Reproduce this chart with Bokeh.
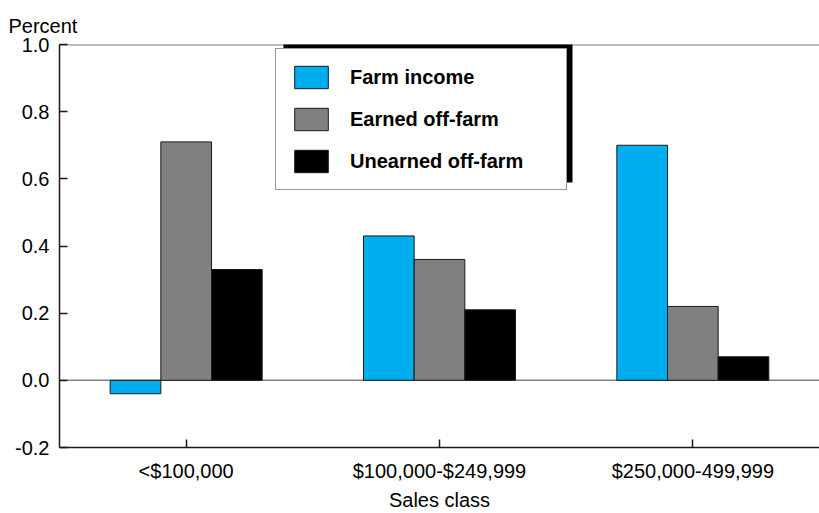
import numpy as np
from bokeh.plotting import figure
from bokeh.models import (Range1d, FixedTicker, Span, BoxAnnotation, Legend,
                          LegendItem, NumeralTickFormatter)
from bokeh.embed import file_html
from bokeh.resources import INLINE

categories = ["<$100,000", "$100,000-$249,999", "$250,000-499,999"]
farm_income = [-0.04, 0.43, 0.70]
earned_off_farm = [0.71, 0.36, 0.22]
unearned_off_farm = [0.33, 0.21, 0.07]
series_names = ["Farm income", "Earned off-farm", "Unearned off-farm"]
series_colors = ["#00AEEF", "#808080", "#000000"]
y_ticks = [-0.2, 0.0, 0.2, 0.4, 0.6, 0.8, 1.0]

FONT = "Liberation Sans"

p = figure(width=819, height=513, output_backend="svg", toolbar_location=None,
           x_range=Range1d(0, 3), y_range=Range1d(-0.2, 1.0),
           min_border_left=59, min_border_right=0, min_border_top=44,
           min_border_bottom=66, title="Percent")
p.outline_line_color = None
p.xgrid.visible = False
p.ygrid.visible = False

p.title.text_font = FONT
p.title.text_font_size = "20px"
p.title.text_font_style = "normal"
p.title.text_color = "black"
p.title.align = "left"
p.title.offset = -51
p.title.standoff = 15

centers = np.arange(len(categories)) + 0.5
offsets = [-0.2, 0.0, 0.2]
values = [farm_income, earned_off_farm, unearned_off_farm]

for s in [Span(location=0.0, dimension="width", line_color="#808080", line_width=1.5, level="underlay"),
          Span(location=1.0, dimension="width", line_color="#808080", line_width=2, level="underlay")]:
    p.add_layout(s)

renderers = []
for vals, off, col in zip(values, offsets, series_colors):
    r = p.vbar(x=centers + off, top=vals, bottom=0, width=0.2,
               fill_color=col, line_color="#1a1a1a", line_width=1)
    renderers.append(r)

# axes
for ax in (p.xaxis[0], p.yaxis[0]):
    ax.axis_line_color = "#1a1a1a"
    ax.axis_line_width = 1.5
    ax.major_tick_line_color = "#1a1a1a"
    ax.major_tick_line_width = 1.5
    ax.minor_tick_line_color = None
    ax.major_tick_out = 0
    ax.major_tick_in = 8
    ax.major_label_text_font = FONT
    ax.major_label_text_font_size = "20px"
    ax.major_label_text_color = "black"

p.yaxis.ticker = FixedTicker(ticks=y_ticks)
p.yaxis.formatter = NumeralTickFormatter(format="0.0")
p.yaxis.major_label_standoff = 10

p.xaxis.ticker = FixedTicker(ticks=list(centers))
p.xaxis.major_label_overrides = {float(c): lab for c, lab in zip(centers, categories)}
p.xaxis.major_label_standoff = 12
p.xaxis.axis_label = "Sales class"
p.xaxis.axis_label_text_font = FONT
p.xaxis.axis_label_text_font_size = "20px"
p.xaxis.axis_label_text_font_style = "normal"
p.xaxis.axis_label_text_color = "black"
p.xaxis.axis_label_standoff = 4

# legend shadow
shadow = BoxAnnotation(left=0.884, right=2.025, bottom=0.589, top=1.012,
                       fill_color="black", fill_alpha=1.0, line_color=None)
p.add_layout(shadow)

legend = Legend(items=[LegendItem(label=n, renderers=[r]) for n, r in zip(series_names, renderers)],
                location=(216, 257))
legend.label_text_font = FONT
legend.label_text_font_size = "20px"
legend.label_text_font_style = "bold"
legend.label_text_color = "black"
legend.glyph_width = 42
legend.glyph_height = 28
legend.label_height = 28
legend.label_width = 202
legend.label_standoff = 18
legend.spacing = 14
legend.padding = 14
legend.margin = 0
legend.border_line_color = "#333333"
legend.border_line_width = 1
legend.background_fill_color = "white"
legend.background_fill_alpha = 1.0
p.add_layout(legend)

open("out.html", "w").write(file_html(p, INLINE))
